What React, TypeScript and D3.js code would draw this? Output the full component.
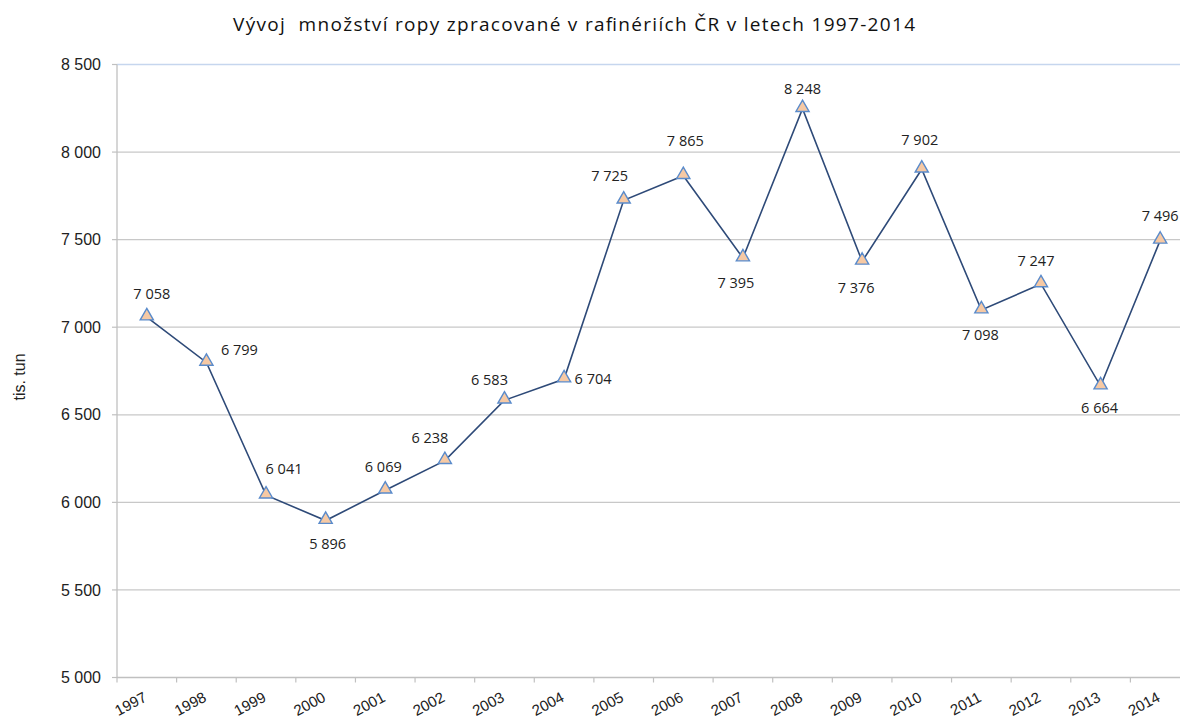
import React from "react";
import * as d3 from "d3";

const years = ["1997","1998","1999","2000","2001","2002","2003","2004","2005","2006","2007","2008","2009","2010","2011","2012","2013","2014"];
const values = [7058, 6799, 6041, 5896, 6069, 6238, 6583, 6704, 7725, 7865, 7395, 8248, 7376, 7902, 7098, 7247, 6664, 7496];
const yTicks = [5000, 5500, 6000, 6500, 7000, 7500, 8000, 8500];
const title = "Vývoj  množství ropy zpracované v rafinériích ČR v letech 1997-2014";
const yLabel = "tis. tun";
// label offsets relative to point (dx, dy)
const labelDx = [5, 33, 18, 2, -2, -15, -15, 29, -14, 2, -7, 0, -6, -2, -1, -5, -1, 0];
const labelDy = [-23, -12, -26, 23, -23, -23, -20, 0, -24, -35, 25, -20, 27, -29, 25, -23, 22, -24];

const W = 1180, H = 719;
const left = 117, right = 1190, top = 64.5, bottom = 677.5;

const locale = d3.formatLocale({ decimal: ",", thousands: "\u00a0", grouping: [3], currency: ["", ""] });
const fmt = locale.format(",d");

export default function App() {
  const x = d3.scaleBand<string>().domain(years).range([left, right]).paddingInner(0).paddingOuter(0);
  const y = d3.scaleLinear().domain([5000, 8500]).range([bottom, top]);
  const cx = (yr: string) => (x(yr) as number) + x.bandwidth() / 2;
  const line = d3.line<number>().x((_, i) => cx(years[i])).y((v) => y(v));
  const tri = d3.symbol().type(d3.symbolTriangle).size(75)();
  const boundaries = years.map((yr) => x(yr) as number).concat([right]);

  return (
    <svg width={W} height={H} style={{ position: "absolute", left: 0, top: 0, background: "#fff" }}>
      <text x={574} y={31} textAnchor="middle" fontFamily="'Open Sans', sans-serif" fontSize={19} fill="#111"
        textLength={682} lengthAdjust="spacing" style={{ whiteSpace: "pre" }}>{title}</text>
      {/* grid */}
      {yTicks.map((t) => (
        <g key={t}>
          {t > 5000 && (
            <line x1={left} x2={W} y1={y(t)} y2={y(t)} stroke={t === 8500 ? "#c6d6ee" : "#c8c8c8"} strokeWidth={1.3} />
          )}
          <line x1={left - 5} x2={left} y1={y(t)} y2={y(t)} stroke="#c0c0c0" strokeWidth={1.2} />
          <text x={101} y={y(t)} dy="0.35em" textAnchor="end" fontFamily="'Liberation Sans', Arial, sans-serif" fontSize={16} fill="#222">{fmt(t)}</text>
        </g>
      ))}
      {/* axes */}
      <line x1={left} x2={left} y1={top} y2={bottom} stroke="#c0c0c0" strokeWidth={1.3} />
      <line x1={left} x2={W} y1={bottom} y2={bottom} stroke="#c0c0c0" strokeWidth={1.3} />
      {boundaries.map((b, i) => (
        <line key={i} x1={b} x2={b} y1={bottom} y2={bottom + 5} stroke="#c0c0c0" strokeWidth={1.2} />
      ))}
      {years.map((yr) => (
        <text key={yr} transform={`translate(${cx(yr) + 1},${bottom + 23}) rotate(-28)`} textAnchor="end"
          fontFamily="'Liberation Sans', Arial, sans-serif" fontSize={15} fill="#222">{yr}</text>
      ))}
      <text transform={`translate(25,377) rotate(-90)`} textAnchor="middle"
        fontFamily="'Liberation Sans', Arial, sans-serif" fontSize={16} fill="#222">{yLabel}</text>
      {/* line */}
      <path d={line(values) || ""} fill="none" stroke="#2e4a78" strokeWidth={1.6} />
      {values.map((v, i) => (
        <path key={i} d={tri || ""} transform={`translate(${cx(years[i])},${y(v) - 1})`} fill="#f6c9a4" stroke="#5a8bcb" strokeWidth={1.4} />
      ))}
      {values.map((v, i) => (
        <text key={"l" + i} x={cx(years[i]) + labelDx[i]} y={y(v) + labelDy[i]} dy="0.35em" textAnchor="middle"
          fontFamily="'Open Sans', sans-serif" fontSize={14.5} fill="#222">{fmt(v)}</text>
      ))}
    </svg>
  );
}
